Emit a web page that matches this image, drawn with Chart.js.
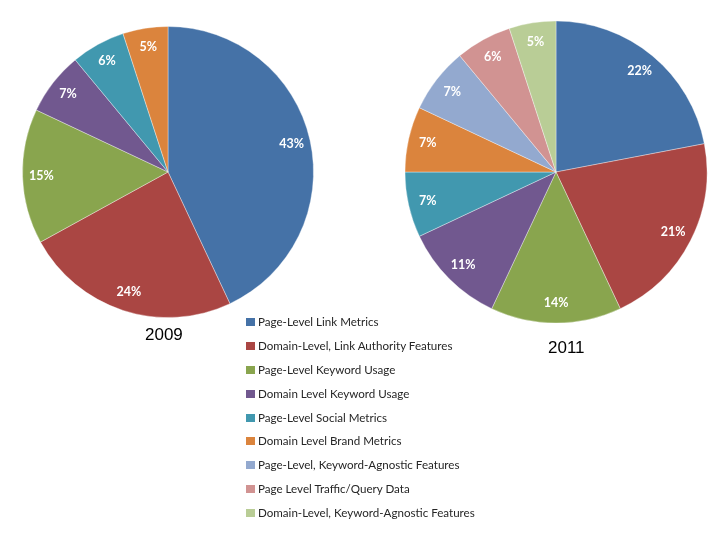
<!DOCTYPE html>
<html>
<head>
<meta charset="utf-8">
<script src="https://cdn.jsdelivr.net/npm/chart.js@4/dist/chart.umd.min.js"></script>
<style>
  html, body { margin: 0; padding: 0; background: #ffffff; }
  body { width: 720px; height: 540px; position: relative; overflow: hidden; }
  .pie { position: absolute; }
  #c2009 { left: 0px; top: 0px; }
  #c2011 { left: 400px; top: 0px; }
  .year { position: absolute; font-family: "Liberation Sans", Arial, sans-serif; font-size: 17px; color: #000; }
  #y2009 { left: 145px; top: 325px; }
  #y2011 { left: 548px; top: 338px; }
  #legend { position: absolute; left: 246px; top: 312px; margin: 0; padding: 0; list-style: none;
            font-family: Lato, "Open Sans", sans-serif; font-size: 11.6px; color: #262626; }
  #legend li { height: 23.9px; line-height: 20px; white-space: nowrap; }
  #legend span.sw { display: inline-block; width: 9px; height: 8px; margin-right: 3px; vertical-align: 0px; }
</style>
</head>
<body>
<canvas id="c2009" class="pie" width="336" height="344"></canvas>
<canvas id="c2011" class="pie" width="312" height="344"></canvas>
<div id="y2009" class="year"></div>
<div id="y2011" class="year"></div>
<ul id="legend"></ul>
<script>
const categories = [
  "Page-Level Link Metrics",
  "Domain-Level, Link Authority Features",
  "Page-Level Keyword Usage",
  "Domain Level Keyword Usage",
  "Page-Level Social Metrics",
  "Domain Level Brand Metrics",
  "Page-Level, Keyword-Agnostic Features",
  "Page Level Traffic/Query Data",
  "Domain-Level, Keyword-Agnostic Features"
];
const years = ["2009", "2011"];
const values2009 = [43, 24, 15, 7, 6, 5];
const values2011 = [22, 21, 14, 11, 7, 7, 7, 6, 5];
const colors = ["#4572A7", "#AA4643", "#89A54E", "#71588F", "#4198AF", "#DB843D", "#93A9CF", "#D19392", "#B9CD96"];

const pctLabels = {
  id: 'pctLabels',
  afterDatasetsDraw(chart) {
    const ctx = chart.ctx;
    const meta = chart.getDatasetMeta(0);
    const data = chart.data.datasets[0].data;
    ctx.save();
    ctx.fillStyle = '#ffffff';
    ctx.font = 'bold 12.5px Lato, "Open Sans", sans-serif';
    ctx.textAlign = 'center';
    ctx.textBaseline = 'middle';
    meta.data.forEach((arc, i) => {
      const p = arc.getProps(['x', 'y', 'startAngle', 'endAngle', 'outerRadius'], true);
      const mid = (p.startAngle + p.endAngle) / 2;
      const r = p.outerRadius * 0.87;
      ctx.fillText(data[i] + '%', p.x + Math.cos(mid) * r, p.y + Math.sin(mid) * r);
    });
    ctx.restore();
  }
};

function makePie(id, values, radius) {
  return new Chart(document.getElementById(id), {
    type: 'pie',
    data: {
      labels: categories.slice(0, values.length),
      datasets: [{
        data: values,
        backgroundColor: colors.slice(0, values.length),
        borderColor: 'rgba(255,255,255,0.6)',
        borderWidth: 0.6,
        radius: radius
      }]
    },
    options: {
      responsive: false,
      animation: false,
      layout: { padding: 0 },
      plugins: { legend: { display: false }, tooltip: { enabled: false } }
    },
    plugins: [pctLabels]
  });
}

makePie('c2009', values2009, 145.5);
makePie('c2011', values2011, 151);

document.getElementById('y2009').textContent = years[0];
document.getElementById('y2011').textContent = years[1];

const legend = document.getElementById('legend');
categories.forEach((name, i) => {
  const li = document.createElement('li');
  const sw = document.createElement('span');
  sw.className = 'sw';
  sw.style.background = colors[i];
  li.appendChild(sw);
  li.appendChild(document.createTextNode(name));
  legend.appendChild(li);
});
</script>
</body>
</html>
